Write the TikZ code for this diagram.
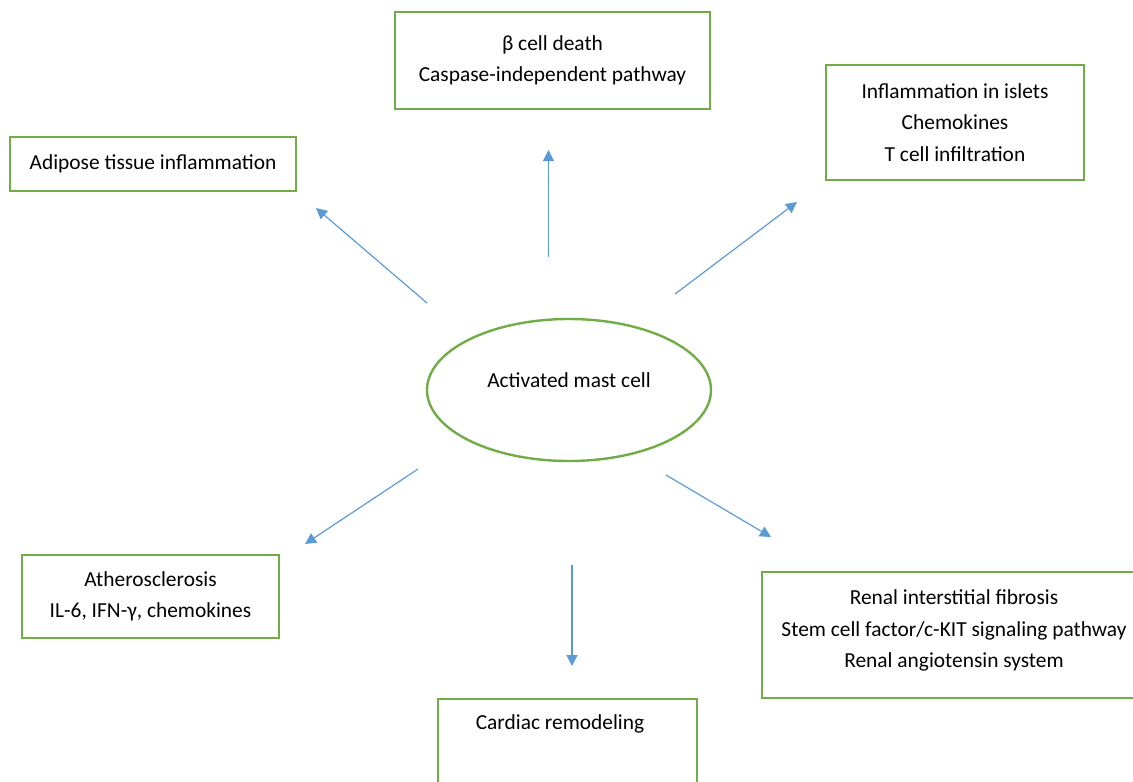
\documentclass[tikz,border=0pt]{standalone}
\usepackage{fontspec}
\setmainfont{Carlito}
\usetikzlibrary{arrows.meta,shapes.geometric}
\definecolor{BoxGreen}{RGB}{112,173,71}
\definecolor{ArrowBlue}{RGB}{91,155,213}
\tikzset{
  effectbox/.style={
    draw=BoxGreen,
    line width=2pt,
    rectangle,
    align=center,
    font=\fontsize{21.4}{31.5}\selectfont
  },
  cellnode/.style={
    draw=BoxGreen,
    line width=2.4pt,
    ellipse,
    minimum width=284,
    minimum height=142,
    text depth=19pt,
    font=\fontsize{21.4}{31.5}\selectfont
  },
  txt/.style={font=\fontsize{21.4}{31.5}\selectfont},
  arrow/.style={-{Triangle[length=11pt,width=11pt]},line width=1.2pt,draw=ArrowBlue}
}

\begin{document}
\begin{tikzpicture}[x=1pt,y=-1pt]
    \useasboundingbox (0,0) rectangle (1133,782);
    % centre
    \node[cellnode] (mast) at (569,390) {Activated mast cell};
    % effects
    \node[effectbox,minimum width=315,minimum height=97] (beta) at (552.5,60.5) {β cell death\\Caspase-independent pathway};
    \node[effectbox,minimum width=286,minimum height=54] (adip) at (153,164) {Adipose tissue inflammation};
    \node[effectbox,minimum width=258,minimum height=115] (islet) at (955,122.5) {Inflammation in islets\\Chemokines\\T cell infiltration};
    \node[effectbox,minimum width=257,minimum height=83] (athe) at (150.5,596.5) {Atherosclerosis\\IL-6, IFN-γ, chemokines};
    \node[effectbox,minimum width=384,minimum height=126] (renal) at (954,635) {Renal interstitial fibrosis\\Stem cell factor/c-KIT signaling pathway\\Renal angiotensin system\\[-19pt]\mbox{}};
    \node[effectbox,minimum width=259,minimum height=120] (card) at (567.5,759) {};
    \node[txt] (cardtxt) at (560,724) {Cardiac remodeling};
    % arrow ends
    \coordinate (upS) at (548.5,257);
    \coordinate (upE) at (548.5,150);
    \coordinate (ulS) at (427,303);
    \coordinate (ulE) at (316,208);
    \coordinate (urS) at (675,294);
    \coordinate (urE) at (797,202);
    \coordinate (llS) at (418,469);
    \coordinate (llE) at (305,544);
    \coordinate (dnS) at (572,565);
    \coordinate (dnE) at (572,666);
    \coordinate (lrS) at (666,475);
    \coordinate (lrE) at (771,537);
    \draw[arrow] (upS) -- (upE);
    \draw[arrow] (ulS) -- (ulE);
    \draw[arrow] (urS) -- (urE);
    \draw[arrow] (llS) -- (llE);
    \draw[arrow] (dnS) -- (dnE);
    \draw[arrow] (lrS) -- (lrE);
\end{tikzpicture}
\end{document}
